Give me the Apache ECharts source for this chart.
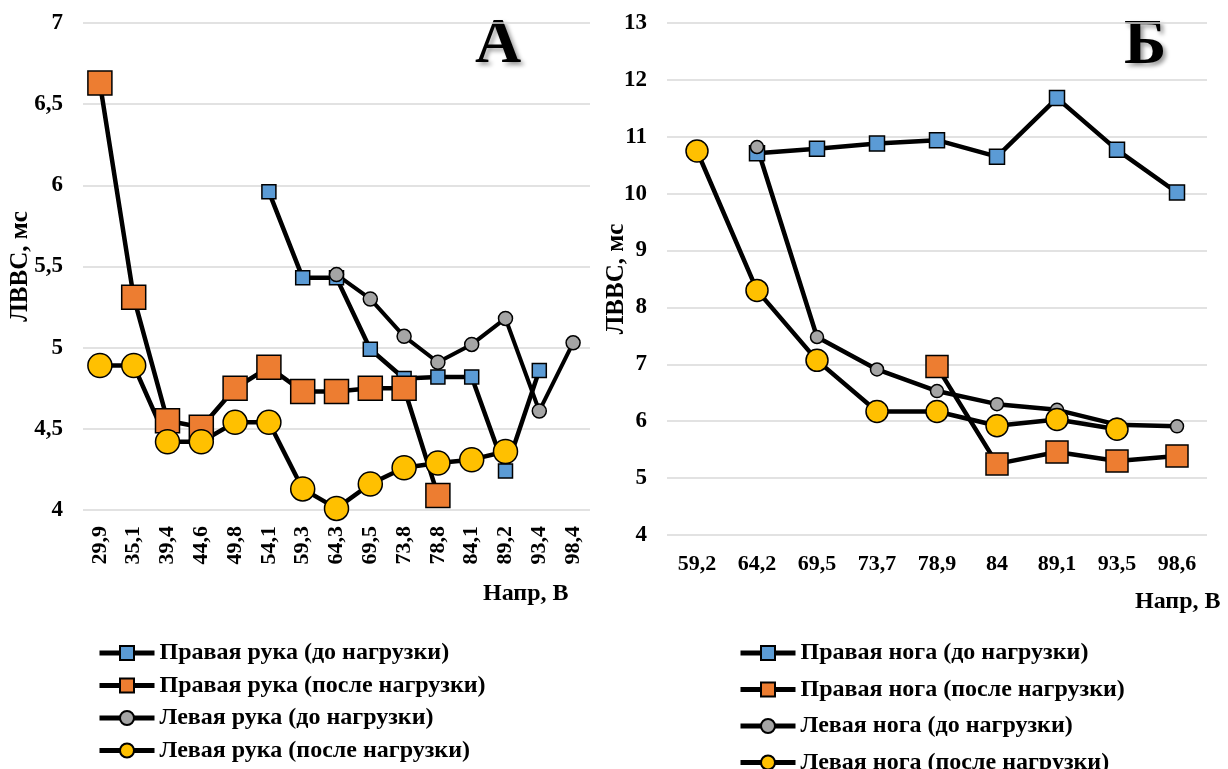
<!DOCTYPE html>
<html>
<head>
<meta charset="utf-8">
<script src="https://cdn.jsdelivr.net/npm/echarts@6/dist/echarts.min.js"></script>
<style>
html,body{margin:0;padding:0;background:#fff;}
#c{width:1228px;height:769px;}
</style>
</head>
<body>
<div id="c"></div>
<script>
// ---- Panel A (arms) ----
const catsA = ['29,9','35,1','39,4','44,6','49,8','54,1','59,3','64,3','69,5','73,8','78,8','84,1','89,2','93,4','98,4'];
const rightArmBefore = [null,null,null,null,null,5.96,5.43,5.43,4.99,4.81,4.82,4.82,4.24,4.86,null];
const rightArmAfter  = [6.63,5.31,4.55,4.51,4.75,4.88,4.73,4.73,4.75,4.75,4.09,null,null,null,null];
const leftArmBefore  = [null,null,null,null,null,null,null,5.45,5.30,5.07,4.91,5.02,5.18,4.61,5.03];
const leftArmAfter   = [4.89,4.89,4.42,4.42,4.54,4.54,4.13,4.01,4.16,4.26,4.29,4.31,4.36,null,null];
const namesA = ['Правая рука (до нагрузки)','Правая рука (после нагрузки)','Левая рука (до нагрузки)','Левая рука (после нагрузки)'];

// ---- Panel Б (legs) ----
const catsB = ['59,2','64,2','69,5','73,7','78,9','84','89,1','93,5','98,6'];
const rightLegBefore = [null,10.71,10.79,10.88,10.94,10.65,11.68,10.77,10.02];
const rightLegAfter  = [null,null,null,null,6.96,5.25,5.46,5.30,5.39];
const leftLegBefore  = [null,10.82,7.48,6.91,6.53,6.30,6.20,5.94,5.91];
const leftLegAfter   = [10.75,8.30,7.07,6.17,6.17,5.92,6.03,5.86,null];
const namesB = ['Правая нога (до нагрузки)','Правая нога (после нагрузки)','Левая нога (до нагрузки)','Левая нога (после нагрузки)'];

const FONT = '"Liberation Serif","Times New Roman",serif';
const COL = {blue:'#5B9BD5', orange:'#ED7D31', gray:'#A5A5A5', yellow:'#FFC000'};
const comma = v => String(v).replace('.', ',');

function ser(name, data, idx, symbol, size, color, lw){
  return {
    name, type:'line', data, xAxisIndex:idx, yAxisIndex:idx,
    symbol, symbolSize:size, connectNulls:false,
    lineStyle:{color:'#000', width:lw},
    itemStyle:{color:color, borderColor:'#000', borderWidth:1.5},
    emphasis:{disabled:true}, animation:false
  };
}

const tick = {fontFamily:FONT, fontWeight:'bold', fontSize:23, color:'#000'};
const split = {show:true, lineStyle:{color:'#D9D9D9', width:1.5}};
const nameStyle = {fontFamily:FONT, fontWeight:'bold', fontSize:25, color:'#000'};
const legText = {fontFamily:FONT, fontWeight:'bold', fontSize:24, color:'#000'};

const option = {
  backgroundColor:'#fff',
  animation:false,
  grid:[
    {left:83, right:638, top:23, bottom:259},
    {left:667, right:21, top:23, bottom:234}
  ],
  xAxis:[
    {type:'category', gridIndex:0, data:catsA, boundaryGap:true,
     axisLine:{show:false}, axisTick:{show:false},
     axisLabel:Object.assign({rotate:90, margin:16, interval:0}, tick, {fontSize:22})},
    {type:'category', gridIndex:1, data:catsB, boundaryGap:true,
     axisLine:{show:false}, axisTick:{show:false},
     axisLabel:Object.assign({margin:18, interval:0}, tick, {fontSize:22})}
  ],
  yAxis:[
    {type:'value', gridIndex:0, min:4, max:7, interval:0.5,
     axisLine:{show:false}, axisTick:{show:false}, splitLine:split,
     axisLabel:Object.assign({margin:20, formatter:comma}, tick),
     name:'ЛВВС, мс', nameLocation:'middle', nameGap:50, nameMoveOverlap:false, nameTextStyle:nameStyle},
    {type:'value', gridIndex:1, min:4, max:13, interval:1,
     axisLine:{show:false}, axisTick:{show:false}, splitLine:split,
     axisLabel:Object.assign({margin:20, formatter:comma}, tick),
     name:'ЛВВС, мс', nameLocation:'middle', nameGap:38, nameMoveOverlap:false, nameTextStyle:nameStyle}
  ],
  legend:[
    {data:namesA, orient:'vertical', left:92, top:636, height:200, itemWidth:55, itemHeight:17.5, itemGap:8.5,
     lineStyle:{width:5, color:'#000'}, textStyle:legText},
    {data:namesB, orient:'vertical', left:733, top:636, height:200, itemWidth:55, itemHeight:17.5, itemGap:12.5,
     lineStyle:{width:5, color:'#000'}, textStyle:legText}
  ],
  graphic:[
    {type:'text', left:475, top:13, style:{text:'А', font:'bold 64px '+FONT, fill:'#000',
      textShadowColor:'rgba(0,0,0,0.4)', textShadowBlur:4, textShadowOffsetX:3, textShadowOffsetY:3}},
    {type:'text', left:1124, top:14, style:{text:'Б', font:'bold 64px '+FONT, fill:'#000',
      textShadowColor:'rgba(0,0,0,0.4)', textShadowBlur:4, textShadowOffsetX:3, textShadowOffsetY:3}},
    {type:'text', left:483, top:582, style:{text:'Напр, В', font:'bold 24px '+FONT, fill:'#000'}},
    {type:'text', left:1135, top:590, style:{text:'Напр, В', font:'bold 24px '+FONT, fill:'#000'}}
  ],
  series:[
    ser(namesA[0], rightArmBefore, 0, 'rect', 14, COL.blue, 4.5),
    ser(namesA[1], rightArmAfter, 0, 'rect', 24, COL.orange, 4.5),
    ser(namesA[2], leftArmBefore, 0, 'circle', 14, COL.gray, 4),
    ser(namesA[3], leftArmAfter, 0, 'circle', 24, COL.yellow, 4.5),
    ser(namesB[0], rightLegBefore, 1, 'rect', 15, COL.blue, 4.5),
    ser(namesB[1], rightLegAfter, 1, 'rect', 22, COL.orange, 4.5),
    ser(namesB[2], leftLegBefore, 1, 'circle', 13, COL.gray, 4.5),
    ser(namesB[3], leftLegAfter, 1, 'circle', 22, COL.yellow, 4.5)
  ]
};
const chart = echarts.init(document.getElementById('c'), null, {renderer:'canvas'});
chart.setOption(option);
</script>
</body>
</html>
